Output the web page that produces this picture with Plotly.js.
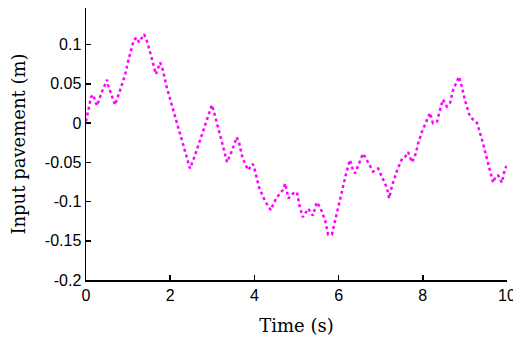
<!DOCTYPE html>
<html>
<head>
<meta charset="utf-8">
<script src="https://cdn.plot.ly/plotly-3.0.1.min.js"></script>
<style>html,body{margin:0;padding:0;background:#fff;}#chart{width:513px;height:343px;}</style>
</head>
<body>
<div id="chart"></div>
<script>
const time = [0, 0.06, 0.12, 0.17, 0.26, 0.38, 0.5, 0.52, 0.69, 0.83, 0.93, 1.02, 1.14, 1.21, 1.26, 1.38, 1.45, 1.54, 1.66, 1.76, 1.81, 1.92, 2.09, 2.25, 2.37, 2.47, 2.57, 2.73, 2.87, 2.99, 3.06, 3.18, 3.28, 3.35, 3.47, 3.58, 3.64, 3.72, 3.85, 3.96, 4.01, 4.11, 4.25, 4.39, 4.45, 4.53, 4.68, 4.73, 4.81, 4.91, 5.01, 5.07, 5.15, 5.28, 5.39, 5.48, 5.56, 5.68, 5.75, 5.84, 5.92, 5.99, 6.08, 6.18, 6.27, 6.34, 6.39, 6.51, 6.58, 6.67, 6.82, 6.94, 7.03, 7.15, 7.2, 7.27, 7.39, 7.51, 7.58, 7.65, 7.74, 7.81, 7.89, 7.98, 8.1, 8.17, 8.24, 8.34, 8.41, 8.48, 8.57, 8.65, 8.72, 8.79, 8.86, 8.93, 9.0, 9.12, 9.29, 9.41, 9.53, 9.6, 9.67, 9.74, 9.79, 9.88, 9.95, 10.0];
const pavement = [0.002, 0.02, 0.033, 0.036, 0.022, 0.04, 0.055, 0.049, 0.023, 0.045, 0.062, 0.083, 0.106, 0.109, 0.103, 0.113, 0.104, 0.087, 0.062, 0.077, 0.071, 0.045, 0.013, -0.015, -0.037, -0.058, -0.044, -0.019, 0.004, 0.023, 0.01, -0.013, -0.035, -0.05, -0.035, -0.018, -0.026, -0.045, -0.06, -0.052, -0.06, -0.082, -0.099, -0.111, -0.103, -0.095, -0.085, -0.077, -0.096, -0.09, -0.088, -0.105, -0.12, -0.109, -0.118, -0.101, -0.107, -0.124, -0.142, -0.142, -0.124, -0.105, -0.086, -0.064, -0.047, -0.06, -0.064, -0.047, -0.039, -0.047, -0.062, -0.058, -0.069, -0.083, -0.096, -0.08, -0.06, -0.045, -0.043, -0.037, -0.05, -0.043, -0.026, -0.011, 0.004, 0.013, 0.0, 0.002, 0.017, 0.03, 0.021, 0.026, 0.042, 0.051, 0.059, 0.046, 0.029, 0.008, 0.0, -0.022, -0.047, -0.06, -0.076, -0.067, -0.067, -0.076, -0.058, -0.055];
const xTicks = [0, 2, 4, 6, 8, 10];
const xTickText = ["0", "2", "4", "6", "8", "10"];
const yTicks = [-0.2, -0.15, -0.1, -0.05, 0, 0.05, 0.1];
const yTickText = ["-0.2", "-0.15", "-0.1", "-0.05", "0", "0.05", "0.1"];

const trace = {
  x: time, y: pavement, type: 'scatter', mode: 'lines',
  line: {color: '#ff00ff', width: 2.5, dash: 'dot'},
  hoverinfo: 'skip'
};
const tickFont = {family: 'Liberation Sans, Arial, sans-serif', size: 16, color: '#000'};
const titleFont = {family: 'DejaVu Serif, serif', size: 18, color: '#000'};
const layout = {
  width: 513, height: 343,
  margin: {l: 86, r: 6, t: 8, b: 63},
  paper_bgcolor: '#fff', plot_bgcolor: '#fff',
  showlegend: false,
  xaxis: {
    range: [0, 10], tickvals: xTicks, ticktext: xTickText,
    ticks: 'inside', ticklen: 5, tickwidth: 1.5, tickcolor: '#000',
    showline: true, linecolor: '#000', linewidth: 1.5, showgrid: false, zeroline: false,
    tickfont: tickFont, ticklabeloverflow: 'allow',
    title: {text: 'Time (s)', font: titleFont, standoff: 16}
  },
  yaxis: {
    range: [-0.2, 0.1465], tickvals: yTicks, ticktext: yTickText,
    ticks: 'inside', ticklen: 5, tickwidth: 1.5, tickcolor: '#000',
    showline: true, linecolor: '#000', linewidth: 1.5, showgrid: false, zeroline: false,
    tickfont: tickFont,
    title: {text: 'Input pavement (m)', font: titleFont, standoff: 14}
  }
};
Plotly.newPlot('chart', [trace], layout, {staticPlot: true, displayModeBar: false});
</script>
</body>
</html>
